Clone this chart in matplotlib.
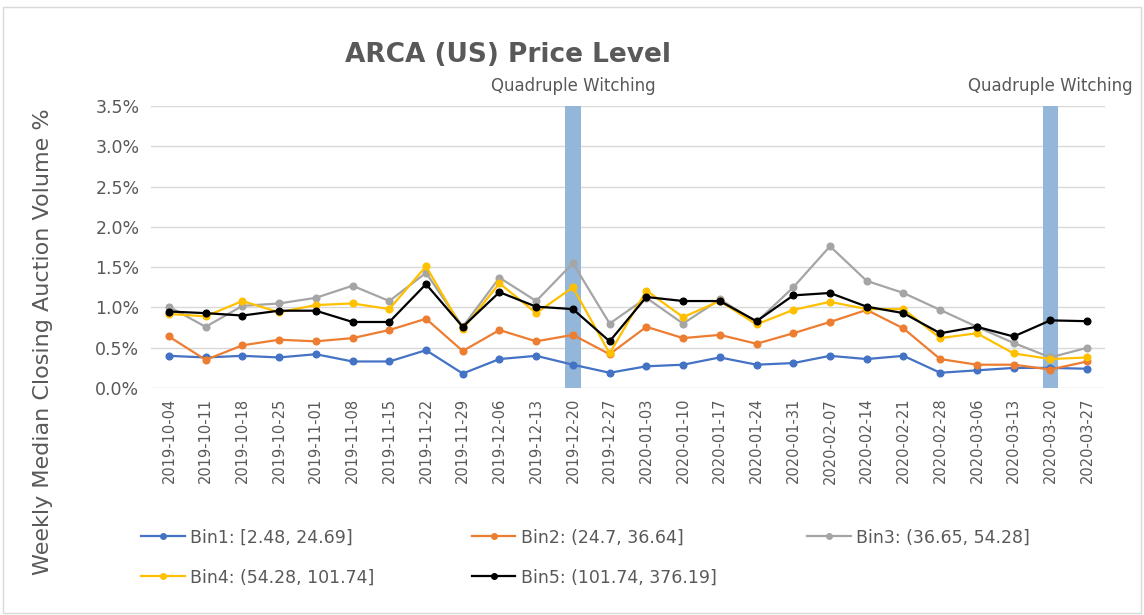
import matplotlib
matplotlib.use("Agg")
import matplotlib.pyplot as plt
from matplotlib.lines import Line2D
from matplotlib.patches import Rectangle
from matplotlib.ticker import FuncFormatter

plt.rcParams['font.family'] = ['DejaVu Sans']

# === data (percent) ===
dates = ["2019-10-04", "2019-10-11", "2019-10-18", "2019-10-25", "2019-11-01",
         "2019-11-08", "2019-11-15", "2019-11-22", "2019-11-29", "2019-12-06",
         "2019-12-13", "2019-12-20", "2019-12-27", "2020-01-03", "2020-01-10",
         "2020-01-17", "2020-01-24", "2020-01-31", "2020-02-07", "2020-02-14",
         "2020-02-21", "2020-02-28", "2020-03-06", "2020-03-13", "2020-03-20",
         "2020-03-27"]

bin1 = [0.40, 0.38, 0.40, 0.38, 0.42, 0.33, 0.33, 0.47, 0.18, 0.36,
        0.40, 0.29, 0.19, 0.27, 0.29, 0.38, 0.29, 0.31, 0.40, 0.36,
        0.40, 0.19, 0.22, 0.25, 0.25, 0.24]
bin2 = [0.64, 0.35, 0.53, 0.60, 0.58, 0.62, 0.72, 0.86, 0.46, 0.72,
        0.58, 0.66, 0.42, 0.76, 0.62, 0.66, 0.55, 0.68, 0.82, 0.97,
        0.74, 0.36, 0.29, 0.29, 0.23, 0.33]
bin3 = [1.01, 0.76, 1.02, 1.05, 1.12, 1.27, 1.08, 1.43, 0.76, 1.37,
        1.08, 1.55, 0.80, 1.12, 0.80, 1.10, 0.82, 1.25, 1.76, 1.33,
        1.18, 0.97, 0.76, 0.56, 0.38, 0.50]
bin4 = [0.92, 0.89, 1.08, 0.94, 1.03, 1.05, 0.98, 1.51, 0.73, 1.30,
        0.93, 1.25, 0.43, 1.21, 0.88, 1.08, 0.79, 0.97, 1.07, 0.98,
        0.98, 0.62, 0.68, 0.43, 0.36, 0.38]
bin5 = [0.95, 0.93, 0.90, 0.96, 0.96, 0.82, 0.82, 1.29, 0.76, 1.19,
        1.01, 0.98, 0.58, 1.13, 1.08, 1.08, 0.83, 1.15, 1.18, 1.01,
        0.93, 0.68, 0.76, 0.64, 0.84, 0.83]

series_labels = ["Bin1: [2.48, 24.69]", "Bin2: (24.7, 36.64]", "Bin3: (36.65, 54.28]",
                 "Bin4: (54.28, 101.74]", "Bin5: (101.74, 376.19]"]
series_colors = ["#4472C4", "#ED7D31", "#A5A5A5", "#FFC000", "#000000"]
witching_dates = ["2019-12-20", "2020-03-20"]

text_color = "#595959"

# === figure ===
fig = plt.figure(figsize=(11.44, 6.15), dpi=100)
fig.patches.append(Rectangle((0.003, 0.003), 0.994, 0.985, transform=fig.transFigure,
                             fill=False, edgecolor="#d9d9d9", linewidth=1))
ax = fig.add_axes([0.1316, 0.369, 0.8347, 0.4586])

x = list(range(len(dates)))
handles = []
for vals, lab, col in zip([bin1, bin2, bin3, bin4, bin5], series_labels, series_colors):
    h, = ax.plot(x, vals, color=col, linewidth=1.6, marker="o", markersize=4.8,
                 label=lab, zorder=3)
    handles.append(h)

for d in witching_dates:
    i = dates.index(d)
    ax.axvspan(i - 0.21, i + 0.21, color="#93B6D9", zorder=2, linewidth=0)
    ax.text(i, 1.04, "Quadruple Witching", transform=ax.get_xaxis_transform(),
            ha="center", va="bottom", fontsize=12, color=text_color)

ax.set_xlim(-0.5, len(dates) - 0.5)
ax.set_ylim(0, 3.5)
ax.set_yticks([0, 0.5, 1.0, 1.5, 2.0, 2.5, 3.0, 3.5])
ax.yaxis.set_major_formatter(FuncFormatter(lambda v, p: f"{v:.1f}%"))
ax.set_xticks(x)
ax.set_xticklabels(dates, rotation=90)
ax.tick_params(axis="y", length=0, labelsize=12.5, colors=text_color, pad=8)
ax.tick_params(axis="x", length=0, labelsize=10.5, colors=text_color, pad=7)
ax.grid(axis="y", color="#d9d9d9", linewidth=1, zorder=0)
ax.set_axisbelow(True)
for s in ax.spines.values():
    s.set_visible(False)

ax.set_title("ARCA (US) Price Level", fontsize=19, fontweight="bold",
             color=text_color, x=0.374, y=1.128)
fig.text(0.038, 0.445, "Weekly Median Closing Auction Volume %", rotation=90,
         ha="center", va="center", fontsize=16, color=text_color)

# legend: one entry each, placed in a 3-column grid
legend_pos = [(0.110, 0.126), (0.399, 0.126), (0.692, 0.126),
              (0.110, 0.061), (0.399, 0.061)]
for h, (lx, ly) in zip(handles, legend_pos):
    proxy = Line2D([], [], color=h.get_color(), marker="o", markersize=4,
                   linewidth=1.6)
    leg = fig.legend([proxy], [h.get_label()], loc="center left",
                     bbox_to_anchor=(lx, ly), frameon=False, fontsize=12.5,
                     handlelength=2.5, handletextpad=0.3)
    for t in leg.get_texts():
        t.set_color(text_color)

plt.savefig("out.png", dpi=100)
